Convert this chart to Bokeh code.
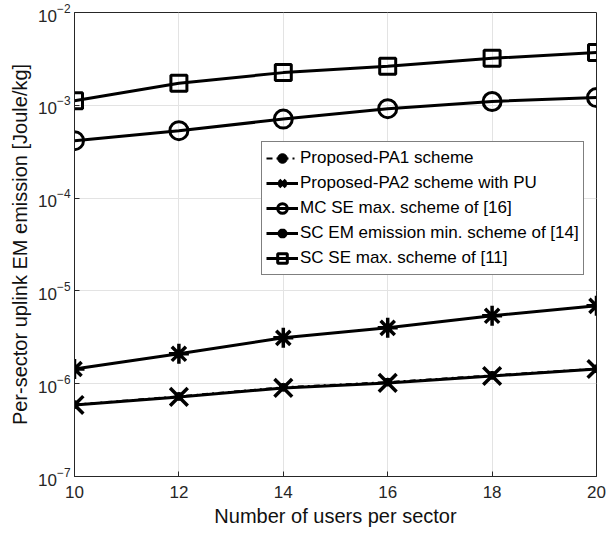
from bokeh.plotting import figure
from bokeh.models import Range1d, FixedTicker, Legend, LegendItem, LogTickFormatter
from bokeh.embed import file_html
from bokeh.resources import INLINE

users = [10, 12, 14, 16, 18, 20]
pa1 = [5.95e-7, 7.3e-7, 9.15e-7, 1.04e-6, 1.23e-6, 1.45e-6]
pa2 = [5.9e-7, 7.2e-7, 9.0e-7, 1.02e-6, 1.21e-6, 1.44e-6]
mc_se = [4.16e-4, 5.33e-4, 7.1e-4, 9.2e-4, 1.10e-3, 1.21e-3]
sc_em = [1.44e-6, 2.10e-6, 3.12e-6, 4.0e-6, 5.39e-6, 6.9e-6]
sc_se = [1.12e-3, 1.73e-3, 2.25e-3, 2.64e-3, 3.21e-3, 3.7e-3]
labels = ["Proposed-PA1 scheme", "Proposed-PA2 scheme with PU",
          "MC SE max. scheme of [16]", "SC EM emission min. scheme of [14]",
          "SC SE max. scheme of [11]"]
x_ticks = [10, 12, 14, 16, 18, 20]
y_ticks = [1e-7, 1e-6, 1e-5, 1e-4, 1e-3, 1e-2]

FONT = "Liberation Sans"
AX = "#262626"

p = figure(width=610, height=539, y_axis_type="log", output_backend="svg",
           toolbar_location=None, x_range=Range1d(10, 20),
           y_range=Range1d(1e-7, 1e-2),
           min_border_left=74, min_border_right=14, min_border_top=12,
           min_border_bottom=63)
p.background_fill_color = "white"
p.border_fill_color = "white"
p.outline_line_color = AX
p.outline_line_width = 1

p.xaxis.ticker = FixedTicker(ticks=x_ticks)
p.yaxis.ticker = FixedTicker(ticks=y_ticks)
p.yaxis.formatter = LogTickFormatter()
for ax in (p.xaxis[0], p.yaxis[0]):
    ax.axis_line_color = AX
    ax.major_tick_line_color = AX
    ax.major_tick_in = 5
    ax.major_tick_out = 0
    ax.minor_tick_line_color = None
    ax.major_label_text_font = FONT
    ax.major_label_text_font_size = "17px"
    ax.major_label_text_color = AX
    ax.axis_label_text_font = FONT
    ax.axis_label_text_font_size = "20px"
    ax.axis_label_text_font_style = "normal"
    ax.axis_label_text_color = "#111111"
p.xaxis.axis_label = "Number of users per sector"
p.yaxis.axis_label = "Per-sector uplink EM emission [Joule/kg]"
p.xaxis.major_label_standoff = 9
p.yaxis.major_label_standoff = 4
p.xaxis.axis_label_standoff = 4
p.yaxis.axis_label_standoff = 4

p.grid.grid_line_color = "#e3e3e3"
p.grid.grid_line_width = 1

LW = 3
items = []

l1 = p.line(users, pa1, line_color="black", line_width=2, line_dash="dashdot")
s1 = p.scatter(users, pa1, marker="circle", size=8, fill_color="black", line_color="black")
l2 = p.line(users, pa2, line_color="black", line_width=LW)
s2 = p.scatter(users, pa2, marker="x", size=25, line_color="black", line_width=3.5)
l3 = p.line(users, mc_se, line_color="black", line_width=LW)
s3 = p.scatter(users, mc_se, marker="circle", size=18, fill_color=None, line_color="black", line_width=3)
l4 = p.line(users, sc_em, line_color="black", line_width=LW)
s4 = p.scatter(users, sc_em, marker="asterisk", size=20, line_color="black", line_width=3.5)
l5 = p.line(users, sc_se, line_color="black", line_width=LW)
s5 = p.scatter(users, sc_se, marker="square", size=16, fill_color=None, line_color="black", line_width=3)

pairs = [(l1, s1), (l2, s2), (l3, s3), (l4, s4), (l5, s5)]
for lab, (ln, sc) in zip(labels, pairs):
    items.append(LegendItem(label=lab, renderers=[ln, sc]))

legend = Legend(items=items, location=(187, 201))
legend.label_text_font = FONT
legend.label_text_font_size = "17px"
legend.label_text_color = "black"
legend.glyph_width = 32
legend.glyph_height = 24
legend.label_height = 24
legend.spacing = 1
legend.padding = 4
legend.margin = 0
legend.label_standoff = 2
legend.border_line_color = "black"
legend.border_line_width = 1
legend.background_fill_color = "white"
legend.background_fill_alpha = 1
p.add_layout(legend, "center")

open("out.html", "w").write(file_html(p, INLINE))
